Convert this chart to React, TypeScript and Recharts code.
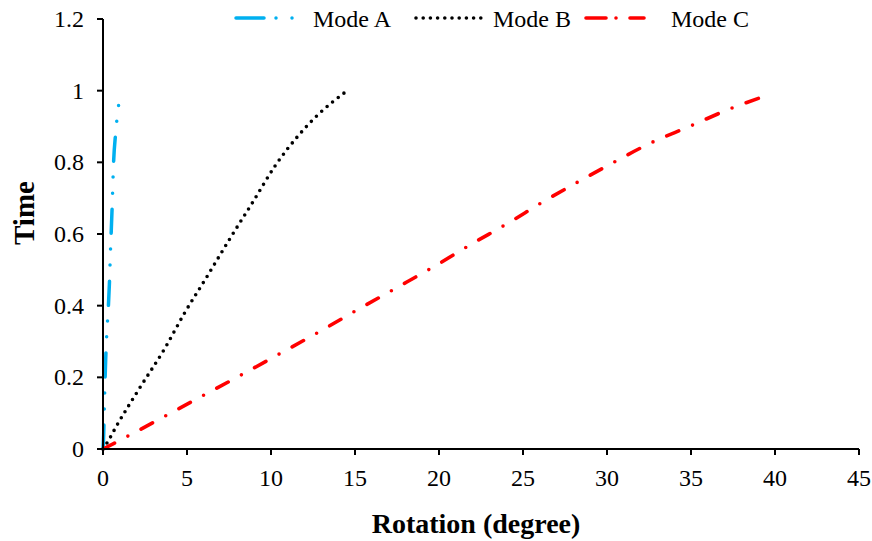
import { LineChart, Line, XAxis, YAxis, Label } from "recharts";

// values
const modeARotation = [0, 0.04, 0.08, 0.16, 0.24, 0.3, 0.38, 0.44, 0.54, 0.63, 0.75, 0.93];
const modeATime = [0, 0.04, 0.12, 0.25, 0.335, 0.38, 0.46, 0.545, 0.67, 0.8, 0.88, 0.96];

const modeBRotation = [0, 0.28, 0.79, 2.18, 3.67, 4.86, 6.11, 7.54, 8.93, 10.3, 11.6, 12.8, 14.45];
const modeBTime = [0, 0.02, 0.063, 0.17, 0.28, 0.38, 0.475, 0.586, 0.69, 0.794, 0.873, 0.933, 0.997];

const modeCRotation = [0, 1.44, 3.78, 6.07, 8.36, 10.6, 12.9, 15.2, 17.4, 19.7, 21.9, 24.1, 26.2, 28.3, 30.4, 32.6, 34.9, 37.2, 39.6];
const modeCTime = [0, 0.035, 0.094, 0.152, 0.21, 0.268, 0.328, 0.39, 0.448, 0.509, 0.571, 0.63, 0.69, 0.746, 0.8, 0.854, 0.9, 0.947, 0.988];

const xTicks = [0, 5, 10, 15, 20, 25, 30, 35, 40, 45];
const yTicks = [0, 0.2, 0.4, 0.6, 0.8, 1, 1.2];

const seriesNames = ["Mode A", "Mode B", "Mode C"];

const toPoints = (xs: number[], ys: number[]) => xs.map((x, i) => ({ x, y: ys[i] }));

const dataA = toPoints(modeARotation, modeATime);
const dataB = toPoints(modeBRotation, modeBTime);
const dataC = toPoints(modeCRotation, modeCTime);

const FONT = '"Liberation Serif", "Times New Roman", serif';

const styles = [
  { color: "#00B0F0", dash: "24 16 0 16 0 16", width: 3.5 },
  { color: "#000000", dash: "0 7.2", width: 3.6 },
  { color: "#FF0000", dash: "13 15 0 15", width: 3.6 },
];

function LegendBox() {
  const items = [
    { x1: 236, x2: 302, tx: 313 },
    { x1: 416, x2: 484, tx: 493 },
    { x1: 586, x2: 656, tx: 671 },
  ];
  return (
    <svg width={872} height={40} style={{ position: "absolute", left: 0, top: 0 }}>
      {items.map((it, i) => (
        <g key={seriesNames[i]}>
          <line
            x1={it.x1}
            x2={it.x2}
            y1={18}
            y2={18}
            stroke={styles[i].color}
            strokeWidth={styles[i].width}
            strokeDasharray={i === 0 ? "28 12 0 16 0 16" : i === 2 ? "20 10 0 14 14 20" : styles[i].dash}
            strokeLinecap="round"
          />
          <text x={it.tx} y={27} fontFamily={FONT} fontSize={24} fill="#000">
            {seriesNames[i]}
          </text>
        </g>
      ))}
    </svg>
  );
}

const XTick = (props: any) => (
  <text x={props.x} y={props.y} dy="0.71em" textAnchor="middle" fontFamily={FONT} fontSize={24} fill="#000">
    {props.payload.value}
  </text>
);

const YTick = (props: any) => (
  <text x={props.x} y={props.y} dy="0.34em" textAnchor="end" fontFamily={FONT} fontSize={24} fill="#000">
    {props.payload.value}
  </text>
);

export default function App() {
  return (
    <div style={{ position: "absolute", left: 0, top: 0, width: 872, height: 541, background: "#fff" }}>
      <LineChart width={872} height={541} margin={{ top: 19, right: 13, bottom: 0, left: 0 }}>
        <XAxis
          type="number"
          dataKey="x"
          domain={[0, 45]}
          ticks={xTicks}
          interval={0}
          height={92}
          stroke="#000"
          strokeWidth={2}
          tickSize={6}
          tickMargin={14}
          tick={XTick}
        >
          <Label
            content={() => (
              <text x={476} y={533} textAnchor="middle" fontFamily={FONT} fontWeight="bold" fontSize={28} fill="#000">
                Rotation (degree)
              </text>
            )}
          />
        </XAxis>
        <YAxis
          type="number"
          domain={[0, 1.2]}
          ticks={yTicks}
          interval={0}
          width={103}
          stroke="#000"
          strokeWidth={2}
          tickSize={6}
          tickMargin={13}
          tick={YTick}
        >
          <Label
            content={() => (
              <text
                x={0}
                y={0}
                transform="translate(34 213) rotate(-90)"
                textAnchor="middle"
                fontFamily={FONT}
                fontWeight="bold"
                fontSize={29}
                fill="#000"
              >
                Time
              </text>
            )}
          />
        </YAxis>
        {[dataA, dataB, dataC].map((d, i) => (
          <Line
            key={seriesNames[i]}
            data={d}
            dataKey="y"
            name={seriesNames[i]}
            type="monotone"
            stroke={styles[i].color}
            strokeWidth={styles[i].width}
            strokeDasharray={styles[i].dash}
            strokeLinecap="round"
            dot={false}
            activeDot={false}
            isAnimationActive={false}
          />
        ))}
      </LineChart>
      <LegendBox />
    </div>
  );
}
